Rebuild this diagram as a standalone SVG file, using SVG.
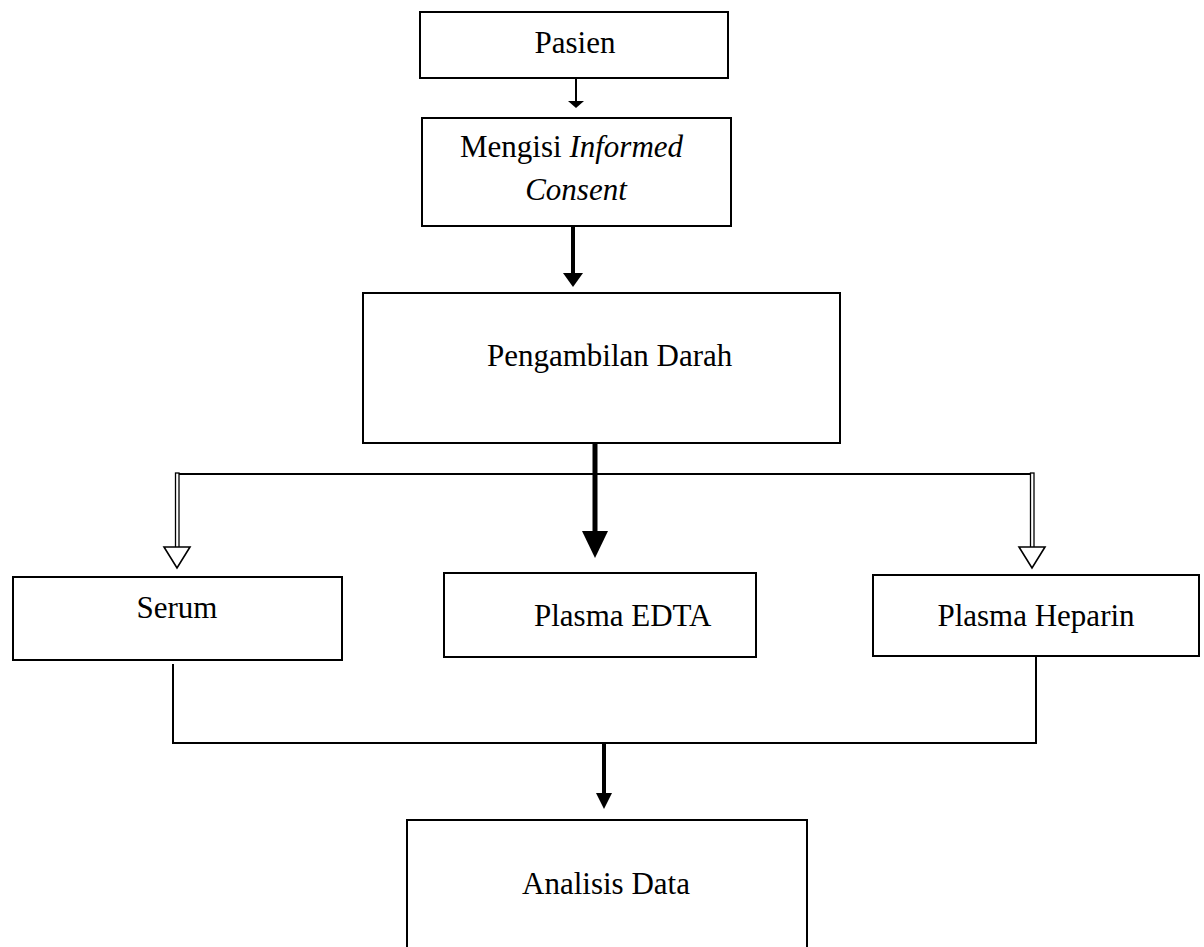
<svg xmlns="http://www.w3.org/2000/svg" width="1204" height="947" viewBox="0 0 1204 947">
<style>
.box{fill:#fff;stroke:#000;stroke-width:2}
.t{font-family:"Liberation Serif","Times New Roman",serif;font-size:31px;fill:#000}
.ln{stroke:#000;fill:none;stroke-width:2}
.head{fill:#000;stroke:none}
.hollow{fill:#fff;stroke:#000;stroke-width:1.6;stroke-linejoin:miter}
</style>
<rect width="1204" height="947" fill="#fff"/>
<g id="connectors">
  <line class="ln" x1="576" y1="78" x2="576" y2="102"/>
  <polygon class="head" points="568,101 584,101 576,108"/>
  <line class="ln" x1="573" y1="226" x2="573" y2="274" style="stroke-width:4"/>
  <polygon class="head" points="563,273 583,273 573,287"/>
  <line class="ln" x1="177" y1="474" x2="1032" y2="474"/>
  <line class="ln" x1="595" y1="443" x2="595" y2="532" style="stroke-width:5"/>
  <polygon class="head" points="582,531 608,531 595,558"/>
  <rect x="175.5" y="473" width="3.5" height="75" fill="#fff" stroke="#000" stroke-width="1.3"/>
  <polygon class="hollow" points="164,547 190,547 177,568"/>
  <rect x="1030.5" y="473" width="3.5" height="75" fill="#fff" stroke="#000" stroke-width="1.3"/>
  <polygon class="hollow" points="1019,547 1045,547 1032,568"/>
  <polyline class="ln" points="173,664 173,743 1036,743 1036,656"/>
  <line class="ln" x1="604" y1="743" x2="604" y2="794" style="stroke-width:4"/>
  <polygon class="head" points="596,793 612,793 604,809"/>
</g>
<g id="node-pasien">
  <rect class="box" x="420" y="12" width="308" height="66"/>
  <text class="t" x="575" y="53" text-anchor="middle">Pasien</text>
</g>
<g id="node-informed-consent">
  <rect class="box" x="422" y="118" width="309" height="108"/>
  <text class="t" x="460" y="157">Mengisi <tspan font-style="italic">Informed</tspan></text>
  <text class="t" x="576" y="200" text-anchor="middle" font-style="italic">Consent</text>
</g>
<g id="node-pengambilan-darah">
  <rect class="box" x="363" y="293" width="477" height="150"/>
  <text class="t" x="487" y="366">Pengambilan Darah</text>
</g>
<g id="node-serum">
  <rect class="box" x="13" y="577" width="329" height="83"/>
  <text class="t" x="177" y="618" text-anchor="middle">Serum</text>
</g>
<g id="node-plasma-edta">
  <rect class="box" x="444" y="573" width="312" height="84"/>
  <text class="t" x="534" y="626">Plasma EDTA</text>
</g>
<g id="node-plasma-heparin">
  <rect class="box" x="873" y="575" width="326" height="81"/>
  <text class="t" x="1036" y="626" text-anchor="middle">Plasma Heparin</text>
</g>
<g id="node-analisis-data">
  <rect class="box" x="407" y="820" width="400" height="150"/>
  <text class="t" x="606" y="894" text-anchor="middle">Analisis Data</text>
</g>
</svg>
